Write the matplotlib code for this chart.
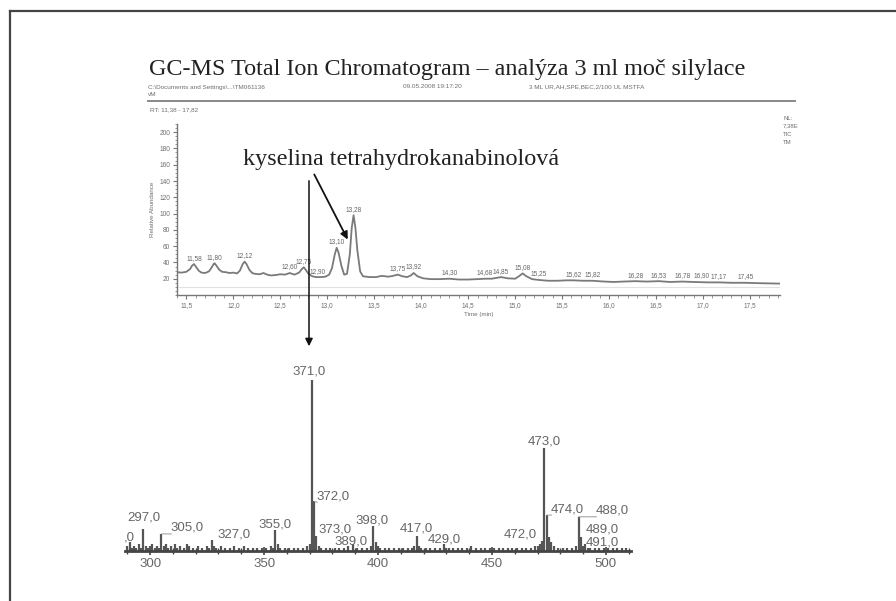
import numpy as np
import matplotlib
matplotlib.use('Agg')
import matplotlib.pyplot as plt
from matplotlib.ticker import MultipleLocator, FuncFormatter
from matplotlib.lines import Line2D
from matplotlib.patches import FancyArrowPatch

# ---------------- data ----------------
tic_time = [11.40, 11.45, 11.50, 11.54, 11.56, 11.58, 11.60, 11.63, 11.66, 11.70, 11.74, 11.77,
            11.79, 11.80, 11.82, 11.85, 11.88, 11.92, 11.96, 12.00, 12.04, 12.07, 12.10, 12.12,
            12.14, 12.17, 12.20, 12.23, 12.28, 12.32, 12.36, 12.40, 12.45, 12.50, 12.55, 12.60,
            12.65, 12.70, 12.73, 12.75, 12.77, 12.80, 12.84, 12.88, 12.93, 12.98, 13.02, 13.05,
            13.08, 13.10, 13.12, 13.15, 13.18, 13.21, 13.24, 13.26, 13.28, 13.30, 13.32, 13.35,
            13.38, 13.45, 13.52, 13.58, 13.65, 13.70, 13.75, 13.80, 13.85, 13.89, 13.92, 13.96,
            14.02, 14.10, 14.20, 14.30, 14.40, 14.50, 14.60, 14.68, 14.75, 14.85, 14.92, 15.00,
            15.04, 15.08, 15.12, 15.18, 15.25, 15.35, 15.45, 15.55, 15.62, 15.72, 15.82, 15.95,
            16.05, 16.15, 16.28, 16.40, 16.53, 16.65, 16.78, 16.90, 17.05, 17.17, 17.30, 17.45,
            17.60, 17.82]
tic_abund = [28, 27.5, 28.5, 32, 36, 38, 35, 30, 27.5, 27, 29, 34,
             38, 39, 36, 31, 28.5, 28, 27, 27.5, 26.5, 30, 38, 41,
             38, 31, 27, 26, 25.5, 27, 25, 24, 24.5, 25.5, 25, 27,
             25, 27.5, 32, 34, 31, 26, 23, 22, 22, 22.5, 25, 33,
             50, 58, 52, 36, 25, 26, 50, 82, 98, 82, 55, 29,
             23, 22, 22, 23.5, 22.5, 23.5, 25, 23, 22, 24, 27, 23,
             20.5, 19.5, 19.5, 20, 19, 19, 19.5, 20, 20, 22, 20.5, 20,
             23, 26.5, 23, 19.5, 18.5, 17.5, 17.5, 18, 18, 17.5, 17.5, 16.5,
             16, 16.5, 17, 16.5, 17, 16, 16.5, 16, 15.5, 15.5, 15, 15,
             14.5, 14]
peak_rt = [11.58, 11.80, 12.12, 12.60, 12.75, 12.90, 13.10, 13.28, 13.75, 13.92, 14.30, 14.68,
           14.85, 15.08, 15.25, 15.62, 15.82, 16.28, 16.53, 16.78, 16.90, 17.17, 17.45]
peak_rt_labels = ['11,58', '11,80', '12,12', '12,60', '12,75', '12,90', '13,10', '13,28', '13,75',
                  '13,92', '14,30', '14,68', '14,85', '15,08', '15,25', '15,62', '15,82', '16,28',
                  '16,53', '16,78', '16,90', '17,17', '17,45']

ms_mz = [290, 291, 292, 293, 294, 295, 296, 297, 298, 299, 300, 301, 302, 303, 304, 305, 306, 307,
         308, 309, 311, 312, 313, 315, 316, 317, 319, 321, 323, 325, 326, 327, 328, 329, 331, 333,
         335, 337, 339, 341, 343, 345, 347, 349, 351, 353, 354, 355, 356, 357, 359, 361, 363, 365,
         367, 369, 370, 371, 372, 373, 374, 375, 377, 379, 381, 383, 385, 387, 389, 391, 393, 395,
         397, 398, 399, 400, 401, 403, 405, 407, 409, 411, 413, 415, 416, 417, 418, 419, 421, 423,
         425, 427, 429, 430, 431, 433, 435, 437, 439, 441, 443, 445, 447, 449, 451, 453, 455, 457,
         459, 461, 463, 465, 467, 469, 470, 471, 472, 473, 474, 475, 476, 477, 479, 481, 483, 485,
         487, 488, 489, 490, 491, 492, 493, 495, 497, 499, 501, 503, 505, 507, 509]
ms_int = [3, 5, 2, 3, 2, 4, 2, 13, 3, 2, 3, 4, 2, 3, 2, 10, 3, 4,
          2, 3, 4, 2, 3, 2, 4, 3, 2, 3, 2, 3, 2, 6.5, 3, 2, 3, 2,
          2, 3, 2, 3, 2, 2, 2, 2, 2, 3, 2, 12, 4, 2, 2, 1.5, 2, 2,
          2, 3, 4, 100, 29, 9, 3, 2, 2, 2, 2, 2, 2, 3, 4, 2, 2, 2,
          3, 14.5, 5, 3, 2, 2, 1.5, 2, 1.5, 2, 2, 2, 3, 9, 3, 2, 2, 1.5,
          2, 2, 4, 2, 2, 1.5, 2, 1.5, 2, 3, 2, 1.5, 2, 1.5, 2, 1.5, 2, 1.5,
          2, 1.5, 2, 2, 2, 3, 3, 4, 6, 60.5, 21, 8, 5, 3, 2, 2, 2, 2,
          3, 20, 8, 3, 4, 2, 2, 1.5, 2, 1.5, 1.5, 1.5, 1.5, 1.5, 1.5]
ms_label_mz = [297, 305, 327, 355, 371, 372, 373, 389, 398, 417, 429, 472, 473, 474, 488, 489, 491]
ms_labels = ['297,0', '305,0', '327,0', '355,0', '371,0', '372,0', '373,0', '389,0', '398,0',
             '417,0', '429,0', '472,0', '473,0', '474,0', '488,0', '489,0', '491,0']

# ---------------- layout helpers ----------------
W, H = 896, 601
fig = plt.figure(figsize=(8.96, 6.01), dpi=100)
fig.patch.set_facecolor('white')

def fx(px):
    return px / W

def fy(py):
    return 1 - py / H

GRAY = '#6e6e6e'
SANS = 'Liberation Sans'
SERIF = 'Liberation Serif'

# outer frame (top and left edges)
fig.add_artist(Line2D([fx(10), 1.0], [fy(11), fy(11)], transform=fig.transFigure, color='#444444', lw=1.6))
fig.add_artist(Line2D([fx(10), fx(10)], [fy(11), 0.0], transform=fig.transFigure, color='#444444', lw=1.6))

# title and header
fig.text(fx(447), fy(70), 'GC-MS Total Ion Chromatogram \u2013 analýza 3 ml moč silylace',
         ha='center', va='center', fontsize=17.4, family=SERIF, color='#222222')
fig.text(fx(148), fy(87), 'C:\\Documents and Settings\\...\\TM061136', ha='left', va='center',
         fontsize=4.6, family=SANS, color=GRAY)
fig.text(fx(403), fy(87), '09.05.2008 19:17:20', ha='left', va='center', fontsize=4.6, family=SANS, color=GRAY)
fig.text(fx(529), fy(87), '3 ML UR,AH,SPE,BEC,2/100 UL MSTFA', ha='left', va='center',
         fontsize=4.6, family=SANS, color=GRAY)
fig.text(fx(148), fy(94), 'vM', ha='left', va='center', fontsize=4.6, family=SANS, color=GRAY)
fig.add_artist(Line2D([fx(148), fx(795)], [fy(101), fy(101)], transform=fig.transFigure, color='#888888', lw=1.4))
fig.text(fx(150), fy(110), 'RT: 11,38 - 17,82', ha='left', va='center', fontsize=4.6, family=SANS, color=GRAY)
for i, s in enumerate(['NL:', '7,38E', 'TIC', 'TM']):
    fig.text(fx(783), fy(118 + 8 * i), s, ha='left', va='center', fontsize=4.3, family=SANS, color=GRAY)

# ---------------- chromatogram ----------------
ax1 = fig.add_axes([fx(177), fy(295), fx(780) - fx(177), fy(124) - fy(295)])
ax1.plot(tic_time, tic_abund, color='#7a7a7a', lw=1.3)
ax1.axhline(10, color='#e2e2e2', lw=0.8)
ax1.set_xlim(11.40, 17.82)
ax1.set_ylim(0, 210)
for s in ['top', 'right']:
    ax1.spines[s].set_visible(False)
for s in ['left', 'bottom']:
    ax1.spines[s].set_color('#777777')
    ax1.spines[s].set_linewidth(1.0)
ax1.xaxis.set_major_locator(MultipleLocator(0.5))
ax1.xaxis.set_minor_locator(MultipleLocator(0.1))
ax1.yaxis.set_minor_locator(MultipleLocator(5))
ax1.set_yticks([20, 40, 60, 80, 100, 120, 140, 160, 180, 200])
ax1.xaxis.set_major_formatter(FuncFormatter(lambda v, p: f'{v:.1f}'.replace('.', ',')))
ax1.tick_params(axis='both', which='major', length=3, width=0.8, color='#777777',
                labelsize=4.7, labelcolor=GRAY, pad=2)
ax1.tick_params(axis='both', which='minor', length=1.8, width=0.6, color='#888888')
for lab in ax1.get_xticklabels() + ax1.get_yticklabels():
    lab.set_family(SANS)
ax1.set_xlabel('Time (min)', fontsize=4.5, color=GRAY, family=SANS, labelpad=2)
ax1.set_ylabel('Relative Abundance', fontsize=4.5, color=GRAY, family=SANS, labelpad=3)
ax1.patch.set_alpha(0)
peak_h = np.interp(peak_rt, tic_time, tic_abund)
rt_label_dx = {'16,90': 8}
for rt, h, lab in zip(peak_rt, peak_h, peak_rt_labels):
    ax1.annotate(lab, (rt, h), xytext=(rt_label_dx.get(lab, 0), 2.5), textcoords='offset pixels',
                 ha='center', va='bottom', fontsize=4.7, family=SANS, color='#666666')

# ---------------- mass spectrum ----------------
ax2 = fig.add_axes([fx(125), fy(551), fx(631) - fx(125), fy(380) - fy(551)])
ax2.vlines(ms_mz, 0, ms_int, color='#555555', lw=1.6)
ax2.set_xlim(289, 511)
ax2.set_ylim(0, 100)
for s in ['top', 'right', 'left']:
    ax2.spines[s].set_visible(False)
ax2.spines['bottom'].set_color('#444444')
ax2.spines['bottom'].set_linewidth(2.0)
ax2.set_yticks([])
ax2.xaxis.set_major_locator(MultipleLocator(50))
ax2.xaxis.set_minor_locator(MultipleLocator(10))
ax2.tick_params(axis='x', which='major', direction='inout', length=6, width=1.2, color='#444444',
                labelsize=9.5, labelcolor='#666666', pad=2)
ax2.tick_params(axis='x', which='minor', direction='inout', length=4, width=1.0, color='#444444')
for lab in ax2.get_xticklabels():
    lab.set_family(SANS)
ax2.patch.set_alpha(0)

# label offsets in pixels: (dx right, dy up to label centre, alignment)
label_layout = {
    297: (1, 11, 'center'), 305: (9, 6, 'left'), 327: (6, 5, 'left'), 355: (0, 6, 'center'),
    371: (-3, 8, 'center'), 372: (2, 5, 'left'), 373: (2, 6, 'left'), 389: (-2, 3, 'center'),
    398: (-1, 6, 'center'), 417: (0, 7, 'center'), 429: (0, 5, 'center'), 472: (-5, 6, 'right'),
    473: (0, 6, 'center'), 474: (4, 6, 'left'), 488: (17, 6, 'left'), 489: (5, 8, 'left'),
    491: (0, 2, 'left'),
}
leader = {305, 372, 474, 488}
ms_lookup = dict(zip(ms_mz, ms_int))
for m, lab in zip(ms_label_mz, ms_labels):
    dx, dy, ha = label_layout[m]
    ax2.annotate(lab, (m, ms_lookup[m]), xytext=(dx, dy), textcoords='offset pixels',
                 ha=ha, va='center', fontsize=9.5, family=SANS, color='#666666')
    if m in leader:
        ax2.annotate('', (m, ms_lookup[m]), xytext=(dx + 1, dy - 6), textcoords='offset pixels',
                     arrowprops=dict(arrowstyle='-', color='#999999', lw=0.7,
                                     shrinkA=0, shrinkB=0))
# label cut off at the left edge
fig.text(fx(129), fy(538), ',0', ha='center', va='center', fontsize=9.5, family=SANS, color='#666666')

# ---------------- annotation arrows ----------------
fig.text(fx(401), fy(160), 'kyselina tetrahydrokanabinolová', ha='center', va='center',
         fontsize=17.4, family=SERIF, color='#222222')
fig.add_artist(FancyArrowPatch((fx(309), fy(178)), (fx(309), fy(349)), transform=fig.transFigure,
                               arrowstyle='-|>', mutation_scale=11, lw=1.1, color='#111111'))
fig.add_artist(FancyArrowPatch((fx(313), fy(172)), (fx(349), fy(242)), transform=fig.transFigure,
                               arrowstyle='-|>', mutation_scale=11, lw=1.3, color='#111111'))

fig.savefig('out.png', dpi=100)
